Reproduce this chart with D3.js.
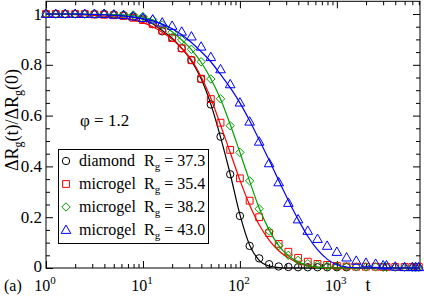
<!DOCTYPE html>
<html>
<head>
<meta charset="utf-8">
<script src="https://cdn.jsdelivr.net/npm/d3@7"></script>
<style>
  html, body { margin: 0; padding: 0; background: #fff; }
  svg, svg text { font-family: "Liberation Serif", "DejaVu Serif", "Times New Roman", serif; }
  svg { display: block; }
</style>
</head>
<body>
<div id="chart"></div>
<script>
// sample times (log spaced, then the sparse tail)
const times = [1, 1.26, 1.58, 2, 2.51, 3.16, 3.98, 5.01, 6.31, 7.94,
  10, 12.6, 15.8, 20, 25.1, 31.6, 39.8, 50.1, 63.1, 79.4,
  100, 126, 158, 200, 251, 316, 398, 501, 631, 794,
  1000, 1259, 1585, 1995, 2512, 3000, 3250, 4000, 5000, 6000, 6500, 7000];

const labels = ["diamond", "microgel", "microgel", "microgel"];
const rgValues = ["37.3", "35.4", "38.2", "43.0"];
const colors = ["#000000", "#ff0000", "#00a000", "#0000ff"];
const symbols = ["circle", "square", "diamond", "triangle"];

// symbols (simulation data)
const diamondPts = [1, 1, 1, 1, 1, 1, 1, 0.998, 0.995, 0.99,
  0.982, 0.96, 0.932, 0.907, 0.865, 0.819, 0.744, 0.644, 0.517, 0.369,
  0.205, 0.087, 0.038, 0.015, 0.006, 0.004, 0.003, 0.003, 0.003, 0.003,
  0.003, 0.003];
const mg354Pts = [1, 1, 1, 1, 1, 0.998, 0.997, 0.995, 0.992, 0.985,
  0.976, 0.96, 0.935, 0.905, 0.865, 0.818, 0.745, 0.665, 0.572, 0.465,
  0.353, 0.265, 0.2, 0.137, 0.095, 0.064, 0.04, 0.025, 0.016, 0.012,
  0.008, 0.006, 0.005, 0.005, 0.005, 0.004, 0.004, 0.004, 0.004, 0.004, 0.004, 0.004];
const mg382Pts = [1, 1, 1, 1, 1, 1, 1, 1, 0.998, 0.996,
  0.99, 0.978, 0.957, 0.928, 0.898, 0.861, 0.812, 0.744, 0.666, 0.56,
  0.455, 0.343, 0.233, 0.145, 0.088, 0.05, 0.03, 0.017, 0.012, 0.008,
  0.006, 0.005, 0.004, 0.004, 0.004, 0.003, 0.003, 0.003, 0.003, 0.003, 0.003, 0.003];
const mg430Pts = [1, 1, 1, 1, 1, 1, 1, 0.997, 0.995, 0.99,
  0.984, 0.978, 0.966, 0.953, 0.93, 0.911, 0.871, 0.83, 0.782, 0.723,
  0.651, 0.576, 0.497, 0.412, 0.337, 0.256, 0.191, 0.146, 0.114, 0.087,
  0.063, 0.041, 0.028, 0.02, 0.016, 0.01, 0.01, 0.005, 0.003, 0.003, 0.003, 0.003];

// fitted curves
const diamondFit = [1, 1, 1, 1, 0.999, 0.998, 0.997, 0.995, 0.993, 0.988,
  0.98, 0.962, 0.935, 0.905, 0.865, 0.815, 0.745, 0.645, 0.515, 0.37,
  0.21, 0.09, 0.03, 0.008, 0.002, 0, 0, 0, 0, 0,
  0, 0, 0, 0, 0, 0, 0, 0, 0, 0, 0, 0];
const mg354Fit = [1, 0.999, 0.998, 0.997, 0.996, 0.994, 0.992, 0.989, 0.985, 0.977,
  0.966, 0.95, 0.928, 0.9, 0.865, 0.82, 0.753, 0.668, 0.563, 0.455,
  0.346, 0.248, 0.17, 0.11, 0.068, 0.04, 0.02, 0.008, 0.003, 0.001,
  0, 0, 0, 0, 0, 0, 0, 0, 0, 0, 0, 0];
const mg382Fit = [1, 1, 1, 1, 0.999, 0.999, 0.998, 0.998, 0.997, 0.994,
  0.988, 0.977, 0.958, 0.93, 0.898, 0.86, 0.81, 0.745, 0.665, 0.565,
  0.455, 0.342, 0.236, 0.15, 0.088, 0.048, 0.024, 0.01, 0.004, 0.001,
  0, 0, 0, 0, 0, 0, 0, 0, 0, 0, 0, 0];
const mg430Fit = [1, 1, 1, 1, 0.999, 0.998, 0.997, 0.995, 0.992, 0.988,
  0.982, 0.973, 0.96, 0.942, 0.918, 0.888, 0.852, 0.812, 0.762, 0.71,
  0.65, 0.58, 0.505, 0.425, 0.345, 0.266, 0.192, 0.125, 0.072, 0.035,
  0.013, 0.004, 0.001, 0, 0, 0, 0, 0, 0, 0, 0, 0];

const pointSets = [diamondPts, mg354Pts, mg382Pts, mg430Pts];
const fitSets = [diamondFit, mg354Fit, mg382Fit, mg430Fit];

const yMajor = [0, 0.2, 0.4, 0.6, 0.8, 1];
const yMinor = [0.05, 0.1, 0.15, 0.25, 0.3, 0.35, 0.45, 0.5, 0.55, 0.65, 0.7, 0.75, 0.85, 0.9, 0.95, 1.0];
const xMajor = [1, 10, 100, 1000];
const xExp = ["0", "1", "2", "3"];

const W = 424, H = 296;
const FONT = "'Liberation Serif', 'DejaVu Serif', serif";
const x = d3.scaleLog().domain([1, 7200]).range([46, 420]);
const y = d3.scaleLinear().domain([0, 1.05]).range([268, 1.3]);

const svg = d3.select("#chart").append("svg")
  .attr("width", W).attr("height", H)
  .attr("font-family", FONT);

const xMinor = [];
[1, 10, 100, 1000].forEach(d => { for (let m = 2; m <= 9; m++) if (d * m <= 7200) xMinor.push(d * m); });

// axes (ticks inward, on all four sides)
function tickAxis(axis, transform, size) {
  const g = svg.append("g").attr("transform", transform)
    .call(axis.tickSize(size).tickFormat(""));
  g.select(".domain").remove();
  g.selectAll("line").attr("stroke", "#000").attr("stroke-width", 1);
  return g;
}
tickAxis(d3.axisBottom(x).tickValues(xMajor), "translate(0,268)", -7);
tickAxis(d3.axisBottom(x).tickValues(xMinor), "translate(0,268)", -4);
tickAxis(d3.axisTop(x).tickValues(xMajor), "translate(0,1.3)", -7);
tickAxis(d3.axisTop(x).tickValues(xMinor), "translate(0,1.3)", -4);
tickAxis(d3.axisLeft(y).tickValues(yMajor), "translate(46,0)", -7);
tickAxis(d3.axisLeft(y).tickValues(yMinor), "translate(46,0)", -4);
tickAxis(d3.axisRight(y).tickValues(yMajor), "translate(420,0)", -7);
tickAxis(d3.axisRight(y).tickValues(yMinor), "translate(420,0)", -4);

svg.append("rect")
  .attr("x", 46).attr("y", 1.3).attr("width", 374).attr("height", 266.7)
  .attr("fill", "none").attr("stroke", "#000").attr("stroke-width", 1);

// y tick labels
svg.append("g").selectAll("text").data(yMajor).join("text")
  .attr("x", 42).attr("y", d => y(d) - (d === 0 ? 2 : 0)).attr("dy", "0.33em")
  .attr("text-anchor", "end").attr("font-size", 17).attr("font-family", FONT)
  .text(d => d === 0 ? "0" : d === 1 ? "1" : d3.format(".1f")(d));

// x tick labels 10^n
const xl = svg.append("g").selectAll("text").data(xMajor).join("text")
  .attr("x", d => x(d) - 1).attr("y", 291)
  .attr("text-anchor", "middle").attr("font-size", 16).attr("font-family", FONT);
xl.append("tspan").text("10");
xl.append("tspan").attr("dy", -7).attr("font-size", 11).text((d, i) => xExp[i]);

// axis titles
svg.append("text").attr("x", 368).attr("y", 291).attr("text-anchor", "middle")
  .attr("font-size", 18).attr("font-family", FONT).text("t");
svg.append("text").attr("x", 4).attr("y", 291).attr("font-size", 16)
  .attr("font-family", FONT).text("(a)");

const yl = svg.append("text")
  .attr("transform", "translate(18,120) rotate(-90)")
  .attr("text-anchor", "middle").attr("font-size", 18).attr("font-family", FONT);
yl.append("tspan").text("ΔR");
yl.append("tspan").attr("font-size", 12).attr("dy", 4).text("g");
yl.append("tspan").attr("dy", -4).text("(t)/ΔR");
yl.append("tspan").attr("font-size", 12).attr("dy", 4).text("g");
yl.append("tspan").attr("dy", -4).text("(0)");

svg.append("text").attr("x", 80).attr("y", 126).attr("font-size", 17)
  .attr("font-family", FONT).text("φ = 1.2");

// marker shapes
function symbolPath(kind) {
  if (kind === "circle") return d3.symbol(d3.symbolCircle, Math.PI * 3.7 * 3.7)();
  if (kind === "square") return "M-3.4,-3.4H3.4V3.4H-3.4Z";
  if (kind === "diamond") return "M0,-4.2L4.2,0L0,4.2L-4.2,0Z";
  return "M0,-5L4.8,3.4L-4.8,3.4Z";
}

const line = d3.line().curve(d3.curveMonotoneX)
  .x(d => x(d[0])).y(d => y(d[1]));

fitSets.forEach((fit, i) => {
  const pts = times.map((t, k) => [t, fit[k]]);
  svg.append("path").datum(pts)
    .attr("d", line).attr("fill", "none")
    .attr("stroke", colors[i]).attr("stroke-width", 1.2);

  const marks = pointSets[i].map((v, k) => [times[k], v]);
  svg.append("g").selectAll("path").data(marks).join("path")
    .attr("transform", d => `translate(${x(d[0])},${y(d[1])})`)
    .attr("d", symbolPath(symbols[i]))
    .attr("fill", "none").attr("stroke", colors[i]).attr("stroke-width", 1);
});

// legend
const lg = svg.append("g");
lg.append("rect").attr("x", 58.5).attr("y", 149.5).attr("width", 150).attr("height", 94)
  .attr("fill", "#fff").attr("stroke", "#000").attr("stroke-width", 1);
labels.forEach((lab, i) => {
  const cy = 161 + i * 23;
  lg.append("path").attr("transform", `translate(66,${cy})`)
    .attr("d", symbolPath(symbols[i]))
    .attr("fill", "none").attr("stroke", colors[i]).attr("stroke-width", 1);
  lg.append("text").attr("x", 79).attr("y", cy + 5).attr("font-size", 16)
    .attr("font-family", FONT).text(lab);
  const t = lg.append("text").attr("x", 144).attr("y", cy + 5).attr("font-size", 16)
    .attr("font-family", FONT);
  t.append("tspan").text("R");
  t.append("tspan").attr("font-size", 11).attr("dy", 4).text("g");
  t.append("tspan").attr("dy", -4).text(" = " + rgValues[i]);
});
</script>
</body>
</html>
